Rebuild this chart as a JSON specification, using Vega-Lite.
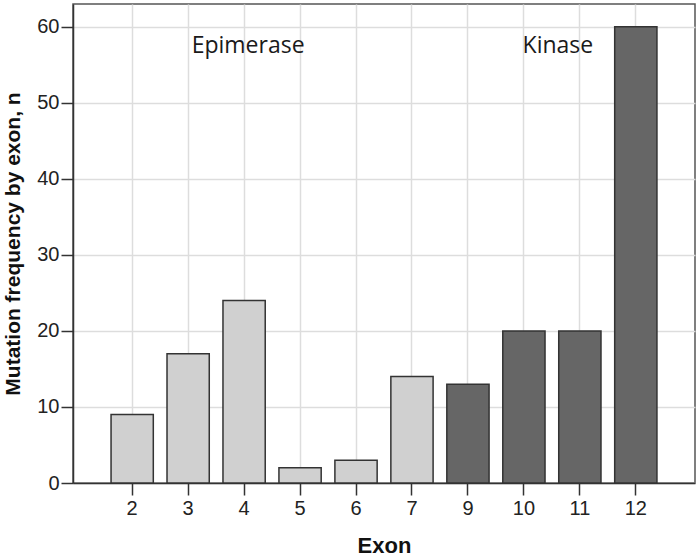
{
  "$schema": "https://vega.github.io/schema/vega-lite/v6.json",
  "autosize": "none",
  "width": 622,
  "height": 479,
  "padding": {"left": 73, "top": 4, "right": 5, "bottom": 75},
  "background": "white",
  "config": {
    "view": {"stroke": "#555555", "strokeWidth": 1.5}
  },
  "datasets": {
    "bars": [
      {"exon": "2", "n": 9, "domain": "Epimerase"},
      {"exon": "3", "n": 17, "domain": "Epimerase"},
      {"exon": "4", "n": 24, "domain": "Epimerase"},
      {"exon": "5", "n": 2, "domain": "Epimerase"},
      {"exon": "6", "n": 3, "domain": "Epimerase"},
      {"exon": "7", "n": 14, "domain": "Epimerase"},
      {"exon": "9", "n": 13, "domain": "Kinase"},
      {"exon": "10", "n": 20, "domain": "Kinase"},
      {"exon": "11", "n": 20, "domain": "Kinase"},
      {"exon": "12", "n": 60, "domain": "Kinase"}
    ],
    "label1": [
      {"exon": "4", "n": 57.5, "label": "Epimerase"}
    ],
    "label2": [
      {"exon": "10", "n": 57.5, "label": "Kinase"}
    ]
  },
  "layer": [
    {
      "data": {"name": "bars"},
      "mark": {"type": "bar", "stroke": "#333333", "strokeWidth": 1.5},
      "encoding": {
        "x": {
          "field": "exon",
          "type": "nominal",
          "scale": {"domain": ["2","3","4","5","6","7","9","10","11","12"], "paddingInner": 0.245, "paddingOuter": 0.68},
          "axis": {
            "title": "Exon", "labelAngle": 0, "bandPosition": 0.5, "grid": true,
            "labelFont": "Liberation Sans", "labelFontSize": 20, "labelColor": "#222222", "labelPadding": 3,
            "titleFont": "Liberation Sans", "titleFontSize": 22, "titleFontWeight": "bold", "titleColor": "#111111", "titlePadding": 17,
            "gridColor": "#dddddd", "gridWidth": 1.5,
            "domainColor": "#333333", "domainWidth": 1.5,
            "tickColor": "#333333", "tickWidth": 1.5, "tickSize": 12
          }
        },
        "y": {
          "field": "n",
          "type": "quantitative",
          "scale": {"domain": [0, 63], "nice": false},
          "axis": {
            "title": "Mutation frequency by exon, n", "values": [0,10,20,30,40,50,60],
            "labelFont": "Liberation Sans", "labelFontSize": 20, "labelColor": "#222222", "labelPadding": 2,
            "titleFont": "Liberation Sans", "titleFontSize": 21, "titleFontWeight": "bold", "titleColor": "#111111", "titlePadding": 13,
            "gridColor": "#dddddd", "gridWidth": 1.5,
            "domainColor": "#333333", "domainWidth": 1.5,
            "tickColor": "#333333", "tickWidth": 1.5, "tickSize": 12
          }
        },
        "color": {
          "field": "domain",
          "type": "nominal",
          "scale": {"domain": ["Epimerase", "Kinase"], "range": ["#d0d0d0", "#666666"]},
          "legend": null
        }
      }
    },
    {
      "data": {"name": "label1"},
      "mark": {"type": "text", "font": "Open Sans", "fontSize": 23, "color": "#1a1a1a", "baseline": "middle", "align": "center", "dx": 4},
      "encoding": {
        "x": {"field": "exon", "type": "nominal"},
        "y": {"field": "n", "type": "quantitative"},
        "text": {"field": "label"}
      }
    },
    {
      "data": {"name": "label2"},
      "mark": {"type": "text", "font": "Open Sans", "fontSize": 23, "color": "#1a1a1a", "baseline": "middle", "align": "center", "dx": 34},
      "encoding": {
        "x": {"field": "exon", "type": "nominal"},
        "y": {"field": "n", "type": "quantitative"},
        "text": {"field": "label"}
      }
    }
  ]
}
